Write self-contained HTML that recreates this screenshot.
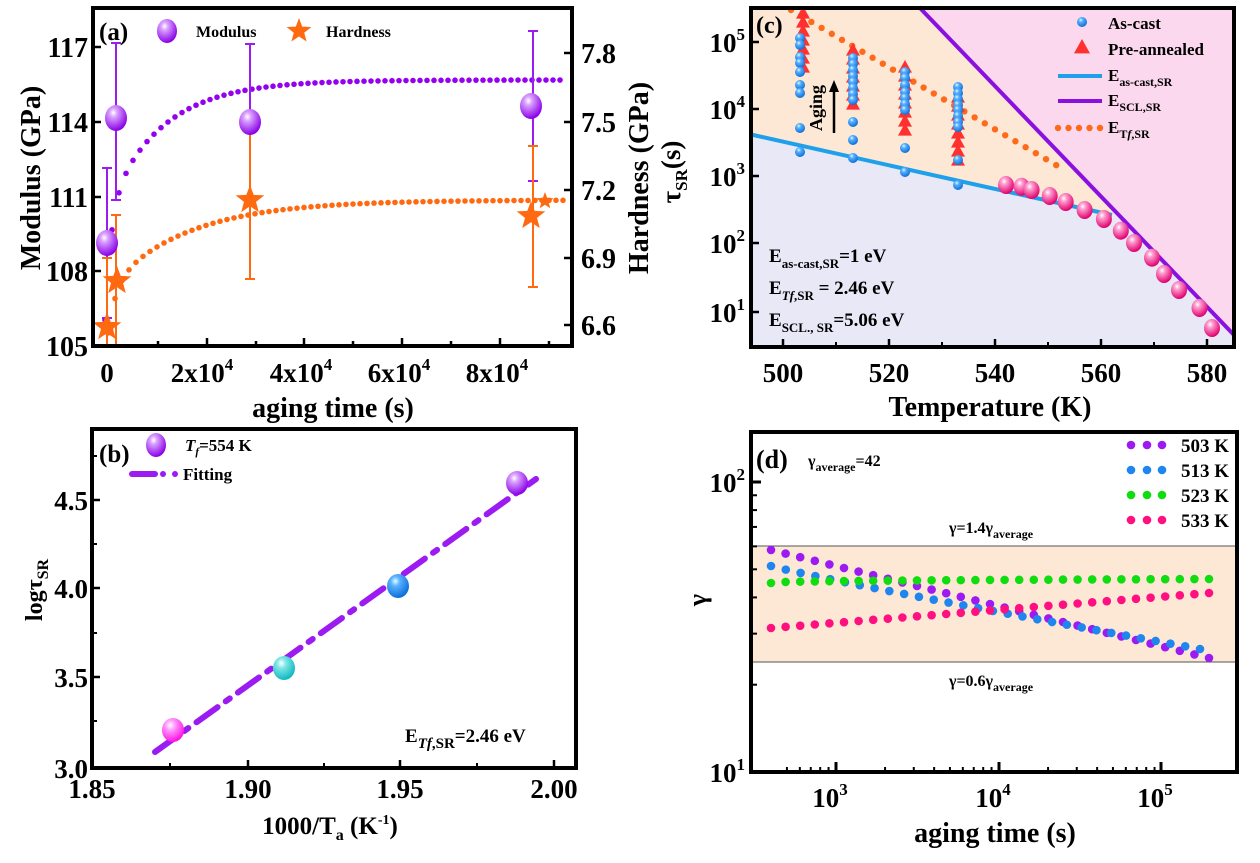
<!DOCTYPE html>
<html><head><meta charset="utf-8"><style>
html,body{margin:0;padding:0;background:#fff}
svg{display:block}
text{font-family:"Liberation Serif",serif;font-weight:bold;fill:#000}
</style></head><body>
<svg id="s" width="1260" height="863" viewBox="0 0 1260 863" xmlns="http://www.w3.org/2000/svg">
<defs>
<radialGradient id="gp" cx="0.38" cy="0.3" r="0.7"><stop offset="0" stop-color="#fff"/><stop offset="0.25" stop-color="#d9a0ff"/><stop offset="1" stop-color="#8a00e6"/></radialGradient>
<radialGradient id="gk" cx="0.38" cy="0.3" r="0.7"><stop offset="0" stop-color="#fff"/><stop offset="0.25" stop-color="#ff9fd0"/><stop offset="1" stop-color="#e0006e"/></radialGradient>
<radialGradient id="gb" cx="0.38" cy="0.3" r="0.7"><stop offset="0" stop-color="#dff"/><stop offset="0.3" stop-color="#5ab0ff"/><stop offset="1" stop-color="#0b6fd8"/></radialGradient>
<radialGradient id="gc" cx="0.38" cy="0.3" r="0.7"><stop offset="0" stop-color="#fff"/><stop offset="0.3" stop-color="#7fe6e6"/><stop offset="1" stop-color="#10b8c0"/></radialGradient>
<radialGradient id="gm" cx="0.38" cy="0.3" r="0.7"><stop offset="0" stop-color="#fff"/><stop offset="0.3" stop-color="#ff9cff"/><stop offset="1" stop-color="#ff10e0"/></radialGradient>
</defs>
<rect x="751" y="8" width="483" height="338" fill="#e9e8f7"/>
<polygon points="751,8 919,8 1120,216 751,134" fill="#fde8d5"/>
<polygon points="919,8 1234,8 1234,335" fill="#fbd8ee"/>
<rect x="751" y="546" width="485" height="116" fill="#fde8d5"/>
<line x1="751" y1="546" x2="1236" y2="546" stroke="#555" stroke-width="1"/>
<line x1="751" y1="662" x2="1236" y2="662" stroke="#555" stroke-width="1"/>
<g id="g"></g>
</svg>
<script>
var h='';
function T(x,y,s,fs,a,extra){h+='<text x="'+x+'" y="'+y+'" font-size="'+fs+'" text-anchor="'+(a||'start')+'" '+(extra||'')+'>'+s+'</text>';}
function L(x1,y1,x2,y2,c,w,ex){h+='<line x1="'+x1+'" y1="'+y1+'" x2="'+x2+'" y2="'+y2+'" stroke="'+c+'" stroke-width="'+w+'" '+(ex||'')+'/>';}
function C(x,y,r,f){h+='<circle cx="'+x+'" cy="'+y+'" r="'+r+'" fill="'+f+'"/>';}
function E(x,y,rx,ry,f){h+='<ellipse cx="'+x+'" cy="'+y+'" rx="'+rx+'" ry="'+ry+'" fill="'+f+'"/>';}
function star(x,y,R,f){var p=[];for(var i=0;i<10;i++){var r=i%2?R*0.42:R;var a=-Math.PI/2+i*Math.PI/5;p.push((x+r*Math.cos(a)).toFixed(1)+','+(y+r*Math.sin(a)).toFixed(1));}h+='<polygon points="'+p.join(' ')+'" fill="'+f+'"/>';}
function tri(x,y,s,f){h+='<polygon points="'+x+','+(y-s)+' '+(x+s)+','+(y+s*0.8)+' '+(x-s)+','+(y+s*0.8)+'" fill="'+f+'"/>';}
function ebar(x,y1,y2,c){L(x,y1,x,y2,c,2);L(x-5,y1,x+5,y1,c,2);L(x-5,y2,x+5,y2,c,2);}
function box(x,y,w,hh){h+='<rect x="'+x+'" y="'+y+'" width="'+w+'" height="'+hh+'" fill="none" stroke="#000" stroke-width="4"/>';}
function curveDots(f,x0,x1,step,c,r){for(var x=x0;x<=x1;x+=step){C(x,f(x),r,c);}}

/* panel a */
curveDots(function(x){return 80+ (320-80)*Math.exp(-(x-105)/6)*0.45+ (320-80)*0.55*Math.exp(-(x-105)/55);},105,565,7,'#9400f0',2.8);
curveDots(function(x){return 200+(333-200)*0.35*Math.exp(-(x-108)/8)+(333-200)*0.65*Math.exp(-(x-108)/80);},108,568,7,'#ff6a10',2.8);
ebar(107,168,318,'#9b1bf0');ebar(116,43,200,'#9b1bf0');ebar(250,44,200,'#9b1bf0');ebar(533,31,181,'#9b1bf0');
ebar(107,258,347,'#ff6a10');ebar(116,215,346,'#ff6a10');ebar(250,124,279,'#ff6a10');ebar(533,146,287,'#ff6a10');
E(107,243,11,13,'url(#gp)');E(116,118,11,13,'url(#gp)');E(250,122,11,13,'url(#gp)');E(531,106,11,13,'url(#gp)');
star(107,327,15,'#ff6a10');star(117,281,15,'#ff6a10');star(250,200,15,'#ff6a10');star(531,216,15,'#ff6a10');
star(545,201,9,'#ff6a10');
box(93,8,479,338);
[[207,8],[304,8],[402,8],[500,8],[158,5],[256,5],[353,5],[451,5],[549,5]].forEach(function(t){L(t[0],346,t[0],346-t[1],'#000',2.5);});
[[47,117],[122,114],[197,111],[271,108],[346,105]].forEach(function(t){L(93,t[0],101,t[0],'#000',2.5);T(88,t[0]+10,t[1],28,'end');});
[[53,'7.8'],[122,'7.5'],[190,'7.2'],[258,'6.9'],[325,'6.6']].forEach(function(t){L(572,t[0],564,t[0],'#000',2.5);T(581,t[0]+10,t[1],28,'start');});
T(107,382,'0',27,'middle');
[[206,'2'],[305,'4'],[403,'6'],[501,'8']].forEach(function(t){T(t[0]-4,382,t[1]+'x10<tspan font-size="17" dy="-12">4</tspan>',27,'middle');});
T(333,417,'aging time (s)',28,'middle');
T(40,178,'Modulus (GPa)',28,'middle','transform="rotate(-90 40 178)"');
T(648,178,'Hardness (GPa)',28,'middle','transform="rotate(-90 648 178)"');
T(99,40,'(a)',25);
E(167,31,10,12,'url(#gp)');T(196,37,'Modulus',16);
star(299,31,13,'#ff6a10');T(326,37,'Hardness',16);

/* panel b */
L(155,752,536,479,'#9b1bf0',6,'stroke-dasharray="26 10 5 10" stroke-linecap="round"');
E(173,730,11,12,'url(#gm)');E(284,668,11,12,'url(#gc)');E(398,586,11,12,'url(#gb)');E(517,483,11,12,'url(#gp)');
box(92,429,484,339);
[[500,'4.5'],[588,'4.0'],[677,'3.5'],[768,'3.0']].forEach(function(t){L(92,t[0],100,t[0],'#000',2.5);T(88,t[0]+10,t[1],27,'end');});
[456,544,633,721].forEach(function(y){L(92,y,97,y,'#000',2);});
[[92,'1.85'],[248,'1.90'],[400,'1.95'],[554,'2.00']].forEach(function(t){L(t[0],768,t[0],760,'#000',2.5);T(t[0],798,t[1],27,'middle');});
[170,324,477].forEach(function(x){L(x,768,x,763,'#000',2);});
T(330,834,'1000/T<tspan font-size="16" dy="6">a</tspan><tspan dy="-6"> (K</tspan><tspan font-size="14" dy="-10">-1</tspan><tspan dy="10">)</tspan>',25,'middle');
T(42,590,'logτ<tspan font-size="16" dy="6">SR</tspan>',24,'middle','transform="rotate(-90 42 590)"');
T(99,462,'(b)',25);
E(156,445,10,12,'url(#gp)');T(185,451,'<tspan font-style="italic">T<tspan font-size="11" dy="4">f</tspan></tspan><tspan dy="-4">=554 K</tspan>',17);
L(132,474,155,474,'#9b1bf0',6,'stroke-linecap="round"');C(163,474,3,'#9b1bf0');C(175,474,3,'#9b1bf0');
T(183,480,'Fitting',17);
T(405,742,'E<tspan font-style="italic" font-size="15" dy="6">Tf</tspan><tspan font-size="15">,SR</tspan><tspan dy="-6">=2.46 eV</tspan>',19);

/* panel c */
L(751,134.5,1112,215,'#1ea0ea',4);
L(919,7,1234,335,'#8a10e0',4);
for(var i=0;i<=26;i++){var x=791+i*10.2;C(x,10+(x-791)*155/265,3.2,'#ff6a1a');}
[[803,13,70],[853,50,107],[905,67,133],[958,97,167]].forEach(function(g){for(var y=g[1];y<=g[2];y+=9)tri(g[0],y,7,'#ff3030');});
var bc={800:[38,45,57,63,72,85,93,128,152],853:[58,64,70,76,82,88,94,100,122,140,158],905:[72,78,85,92,98,104,110,148,172],958:[87,93,99,105,110,116,122,127,160,185]};
for(var k in bc){bc[k].forEach(function(y){C(+k,y,5,'url(#gb)');});}
[[1006,185],[1021.6,186.7],[1031.6,190],[1049.7,196],[1065.7,202],[1084.6,210],[1103.9,219],[1120.8,230.7],[1134,243],[1152,257.7],[1164,274],[1179,290],[1199.5,308],[1212,328]].forEach(function(p){E(p[0],p[1],8,9,'url(#gk)');});
box(751,8,483,339);
[[42,5],[109,4],[176,3],[243,2],[312,1]].forEach(function(t){L(751,t[0],759,t[0],'#000',2.5);T(745,t[0]+10,'10<tspan font-size="17" dy="-12">'+t[1]+'</tspan>',27,'end');});
[[783,500],[889,520],[995,540],[1101,560],[1207,580]].forEach(function(t){L(t[0],347,t[0],339,'#000',2.5);T(t[0],382,t[1],27,'middle');});
[836,942,1048,1154].forEach(function(x){L(x,347,x,342,'#000',2);});
T(990,416,'Temperature (K)',28,'middle');
T(680,172,'τ<tspan font-size="17" dy="7">SR</tspan><tspan dy="-7">(s)</tspan>',27,'middle','transform="rotate(-90 680 172)"');
T(756,33,'(c)',24);
T(822,108,'Aging',18,'middle','transform="rotate(-90 822 108)"');
L(834,133,834,88,'#000',2.5);h+='<polygon points="834,80 829,92 839,92" fill="#000"/>';
C(1082,22,5,'url(#gb)');T(1108,29,'As-cast',17);
tri(1082,47,8,'#ff3030');T(1108,55,'Pre-annealed',17);
L(1058,76,1102,76,'#1ea0ea',4);T(1108,81,'E<tspan font-size="12" dy="5">as-cast,SR</tspan>',17);
L(1058,101,1102,101,'#8a10e0',4);T(1108,106,'E<tspan font-size="12" dy="5">SCL,SR</tspan>',17);
for(var j=0;j<5;j++)C(1058+j*10.5,128,3.2,'#ff6a1a');T(1108,133,'E<tspan font-size="12" dy="5">T<tspan font-style="italic">f</tspan>,SR</tspan>',17);
T(769,262,'E<tspan font-size="13" dy="6">as-cast,SR</tspan><tspan dy="-6">=1 eV</tspan>',19);
T(769,294,'E<tspan font-size="13" dy="6" font-style="italic">Tf</tspan><tspan font-size="13">,SR</tspan><tspan dy="-6"> = 2.46 eV</tspan>',19);
T(769,326,'E<tspan font-size="13" dy="6">SCL., SR</tspan><tspan dy="-6">=5.06 eV</tspan>',19);

/* panel d */
function ser(n,x0,x1,y0,y1,c,curv){for(var i=0;i<n;i++){var f=i/(n-1);var x=x0+(x1-x0)*f;var y=y0+(y1-y0)*(curv?Math.pow(f,curv):f);C(x,y,4.3,c);}}
ser(31,771,1209,550,658,'#9b1bf0');
ser(30,771,1200,566,649,'#1e86ee',0.93);
ser(31,771,1209,583,579,'#10dd10',0.4);
ser(31,771,1209,628,593,'#ff1080',1);
box(751,432,486,340);
L(751,482,761,482,'#000',3);
for(var m=2;m<=9;m++){var y=772-Math.log10(m)*290;L(751,y,757,y,'#000',2);}
[[836,3],[999,4],[1161,5]].forEach(function(t){L(t[0],772,t[0],762,'#000',3);T(t[0]-6,807,'10<tspan font-size="17" dy="-12">'+t[1]+'</tspan>',27,'middle');});
[3,4].forEach(function(d){for(var m=2;m<=9;m++){var x=836+(d-3)*163+Math.log10(m)*163;L(x,772,x,767,'#000',2);}});
for(var m=5;m<=9;m++){var x=836-163+Math.log10(m)*163;L(x,772,x,767,'#000',2);}
T(745,492,'10<tspan font-size="17" dy="-12">2</tspan>',27,'end');
T(745,782,'10<tspan font-size="17" dy="-12">1</tspan>',27,'end');
T(995,842,'aging time (s)',28,'middle');
T(706,600,'γ',26,'middle','transform="rotate(-90 706 600)"');
T(756,468,'(d)',26);
T(808,466,'γ<tspan font-size="12" dy="5">average</tspan><tspan dy="-5">=42</tspan>',16);
T(991,533,'γ=1.4γ<tspan font-size="12" dy="5">average</tspan>',16,'middle');
T(991,686,'γ=0.6γ<tspan font-size="12" dy="5">average</tspan>',16,'middle');
[['503 K','#9b1bf0',445],['513 K','#1e86ee',470],['523 K','#10dd10',495],['533 K','#ff1080',520]].forEach(function(l){C(1131,l[2],4.3,l[1]);C(1147,l[2],4.3,l[1]);C(1162,l[2],4.3,l[1]);T(1181,l[2]+7,l[0],19);});

document.getElementById('g').innerHTML=h;
</script>
</body></html>
